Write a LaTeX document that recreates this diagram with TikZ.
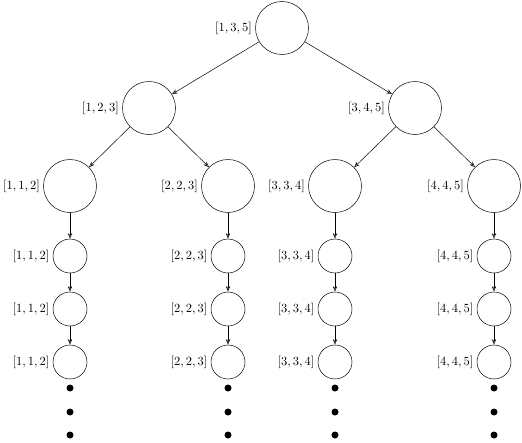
\documentclass[tikz,border=0pt]{standalone}
\usetikzlibrary{arrows.meta}
\begin{document}
\begin{tikzpicture}[x=0.8pt,y=-0.8pt,
  big/.style={draw,circle,inner sep=0pt,minimum size=42.4pt},
  small/.style={draw,circle,inner sep=0pt,minimum size=27.2pt},
  dotn/.style={fill,circle,inner sep=0pt,minimum size=5.6pt},
  arr/.style={-{Stealth[length=4.5pt,width=3.5pt,open]}},
  lab/.style={label={[inner sep=2.5pt]left:#1}}]
\useasboundingbox (0,0) rectangle (522,442);
\node[big,lab={$[1,3,5]$}] (r) at (282,28) {};
\node[big,lab={$[1,2,3]$}] (a) at (149,108) {};
\node[big,lab={$[3,4,5]$}] (b) at (415,108) {};
\draw[arr] (r) -- (a);
\draw[arr] (r) -- (b);
\foreach \n/\x/\t/\p in {c/70/{[1,1,2]}/a, d/228/{[2,2,3]}/a, e/335/{[3,3,4]}/b, f/494/{[4,4,5]}/b}{
  \node[big,lab={$\t$}] (\n0) at (\x,186) {};
  \draw[arr] (\p) -- (\n0);
  \node[small,lab={$\t$}] (\n1) at (\x,256) {};
  \node[small,lab={$\t$}] (\n2) at (\x,309) {};
  \node[small,lab={$\t$}] (\n3) at (\x,362) {};
  \draw[arr] (\n0) -- (\n1);
  \draw[arr] (\n1) -- (\n2);
  \draw[arr] (\n2) -- (\n3);
  \node[dotn] (\n4) at (\x,388) {};
  \node[dotn] (\n5) at (\x,412) {};
  \node[dotn] (\n6) at (\x,435) {};
}
\end{tikzpicture}
\end{document}
